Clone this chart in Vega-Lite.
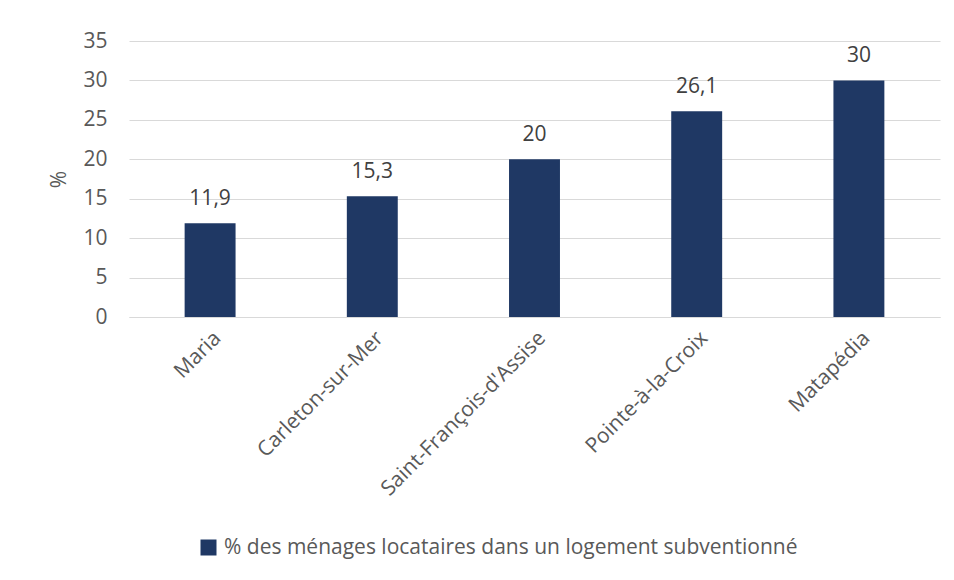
{
  "$schema": "https://vega.github.io/schema/vega-lite/v6.json",
  "autosize": "none",
  "width": 811,
  "height": 276,
  "padding": {"left": 129, "top": 41, "right": 14, "bottom": 263},
  "background": "white",
  "config": {
    "font": "Open Sans",
    "view": {"stroke": null},
    "locale": {"number": {"decimal": ",", "thousands": " ", "grouping": [3], "currency": ["", " $"]}}
  },
  "data": {"values": [
    {"ville": "Maria", "pct": 11.9, "serie": "% des ménages locataires dans un logement subventionné"},
    {"ville": "Carleton-sur-Mer", "pct": 15.3, "serie": "% des ménages locataires dans un logement subventionné"},
    {"ville": "Saint-François-d'Assise", "pct": 20, "serie": "% des ménages locataires dans un logement subventionné"},
    {"ville": "Pointe-à-la-Croix", "pct": 26.1, "serie": "% des ménages locataires dans un logement subventionné"},
    {"ville": "Matapédia", "pct": 30, "serie": "% des ménages locataires dans un logement subventionné"}
  ]},
  "encoding": {
    "x": {"field": "ville", "type": "nominal", "sort": null,
      "scale": {"paddingInner": 0.686, "paddingOuter": 0.343},
      "axis": {"title": null, "labelAngle": -45, "labelFontSize": 21, "labelColor": "#595959", "ticks": false, "domainColor": "#D9D9D9", "domainWidth": 1, "labelPadding": 10, "labelLimit": 0}},
    "y": {"field": "pct", "type": "quantitative",
      "scale": {"domain": [0, 35], "nice": false},
      "axis": {"title": "%", "titleFontSize": 21, "titleFontWeight": "normal", "titleColor": "#595959", "titlePadding": 13,
        "values": [0, 5, 10, 15, 20, 25, 30, 35], "labelFontSize": 21, "labelColor": "#595959", "ticks": false, "domain": false,
        "gridColor": "#D9D9D9", "labelPadding": 22}}
  },
  "layer": [
    {"mark": {"type": "bar", "color": "#1F3864"},
     "encoding": {"color": {"field": "serie", "type": "nominal", "scale": {"range": ["#1F3864"]},
       "legend": {"title": null, "orient": "none", "legendX": 69, "legendY": 496, "labelFontSize": 21, "labelColor": "#595959", "labelLimit": 0, "symbolType": "square", "symbolSize": 256, "symbolStrokeWidth": 0, "labelOffset": 5}}}},
    {"mark": {"type": "text", "dy": -24, "fontSize": 21, "color": "#404040"},
     "encoding": {"text": {"field": "pct", "type": "quantitative", "format": ".1~f"}}}
  ]
}
